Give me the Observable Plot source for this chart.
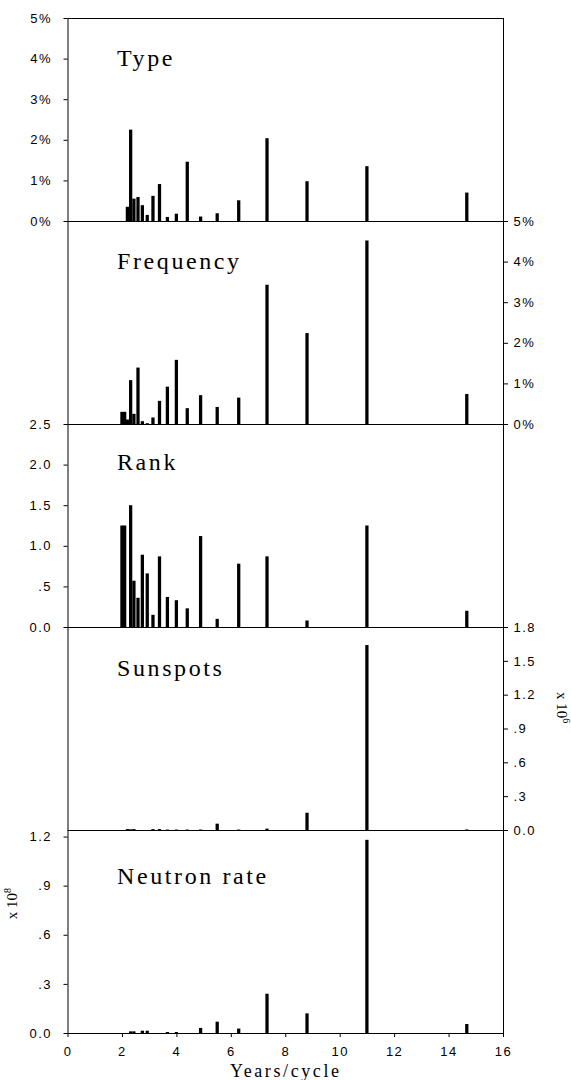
<!DOCTYPE html>
<html><head><meta charset="utf-8">
<script src="https://cdn.jsdelivr.net/npm/d3@7"></script>
<script src="https://cdn.jsdelivr.net/npm/@observablehq/plot@0.6"></script>
<style>
body{margin:0;background:#fff;}
#chart{position:relative;width:571px;height:1080px;overflow:hidden;}
#chart svg{position:absolute;left:0;overflow:visible;background:transparent;}
</style></head><body><div id="chart"></div>
<script>
// Periods (years/cycle) of the bars
const periods  = [14.67, 11.0, 8.8, 7.33, 6.29, 5.5, 4.89, 4.4, 4.0, 3.67, 3.38, 3.14, 2.93, 2.75, 2.59, 2.44, 2.32, 2.2, 2.1, 2.0];
// Series values, same order as periods
const typePct  = [0.70, 1.35, 0.98, 2.04, 0.51, 0.19, 0.11, 1.46, 0.18, 0.10, 0.91, 0.62, 0.15, 0.39, 0.59, 0.55, 2.25, 0.35, 0, 0];
const freqPct  = [0.74, 4.52, 2.24, 3.43, 0.65, 0.42, 0.71, 0.39, 1.58, 0.92, 0.57, 0.16, 0.02, 0.07, 1.39, 0.25, 1.08, 0.11, 0.30, 0.30];
const rankVal  = [0.20, 1.25, 0.08, 0.87, 0.78, 0.10, 1.12, 0.23, 0.33, 0.37, 0.87, 0.15, 0.66, 0.89, 0.36, 0.57, 1.50, 0, 1.25, 1.25];
const sunspots = [0.005, 1.64, 0.153, 0.012, 0.004, 0.056, 0.004, 0.004, 0.004, 0.004, 0.008, 0.008, 0, 0, 0, 0.008, 0.006, 0.008, 0, 0]; // x 10^6
const neutron  = [0.055, 1.18, 0.12, 0.24, 0.027, 0.069, 0.031, 0, 0.006, 0.006, 0, 0, 0.014, 0.014, 0, 0.01, 0.01, 0, 0, 0];          // x 10^8

// Tick values and labels
const xTicks = [0, 2, 4, 6, 8, 10, 12, 14, 16];
const pctTicks = [0, 1, 2, 3, 4, 5];
const pctLabels = ["0%", "1%", "2%", "3%", "4%", "5%"];
const rankTicks = [0, 0.5, 1, 1.5, 2, 2.5];
const rankLabels = ["0.0", ".5", "1.0", "1.5", "2.0", "2.5"];
const sunTicks = [0, 0.3, 0.6, 0.9, 1.2, 1.5, 1.8];
const sunLabels = ["0.0", ".3", ".6", ".9", "1.2", "1.5", "1.8"];
const neuTicks = [0, 0.3, 0.6, 0.9, 1.2];
const neuLabels = ["0.0", ".3", ".6", ".9", "1.2"];

const panels = [
  {name: "Type",         vals: typePct,  domain: [0, 5],    ticks: pctTicks,  labels: pctLabels,  side: "left",  labelDy: 47},
  {name: "Frequency",    vals: freqPct,  domain: [0, 5],    ticks: pctTicks,  labels: pctLabels,  side: "right", labelDy: 47},
  {name: "Rank",         vals: rankVal,  domain: [0, 2.5],  ticks: rankTicks, labels: rankLabels, side: "left",  labelDy: 45},
  {name: "Sunspots",     vals: sunspots, domain: [0, 1.8],  ticks: sunTicks,  labels: sunLabels,  side: "right", labelDy: 48, unit: "6"},
  {name: "Neutron rate", vals: neutron,  domain: [0, 1.24], ticks: neuTicks,  labels: neuLabels,  side: "left",  labelDy: 53, unit: "8"}
];

const W = 571, ML = 67.5, MR = 68, PH = 203, PAD = 14, TOP0 = 18, BOTTOM = 47;
const serif = "Liberation Serif, Times New Roman, serif";
const sans = "Liberation Sans, Arial, sans-serif";
const chart = document.getElementById("chart");

panels.forEach((p, i) => {
  const last = i === panels.length - 1;
  const data = periods.map((x, k) => ({p: x, v: p.vals[k]}));
  const lab = new Map(p.ticks.map((t, k) => [t, p.labels[k]]));
  const marks = [
    Plot.rectY(data, {x1: d => d.p - 0.06, x2: d => d.p + 0.06, y: "v", fill: "black"}),
    Plot.frame({stroke: "black", strokeWidth: 1}),
    Plot.axisY({anchor: p.side, ticks: p.ticks, tickFormat: d => lab.get(d), tickSize: 4,
                tickPadding: p.side === "left" ? 12 : 6, fontSize: 13, fontFamily: sans, label: null, stroke: "black"}),
    Plot.text([p.name], {frameAnchor: "top-left", dx: 49, dy: p.labelDy, lineAnchor: "bottom", textAnchor: "start",
                         fontSize: 24, fontFamily: serif, fill: "black"})
  ];
  if (last) {
    marks.push(Plot.axisX({ticks: xTicks, tickSize: 4, tickPadding: 9, fontSize: 13, fontFamily: sans, label: null, stroke: "black"}));
    marks.push(Plot.text(["Years/cycle"], {frameAnchor: "bottom", dy: 43, lineAnchor: "bottom", fontSize: 18, fontFamily: serif, fill: "black"}));
  }
  const svg = Plot.plot({
    width: W,
    height: PH + PAD + (last ? BOTTOM : PAD),
    marginLeft: ML, marginRight: MR, marginTop: PAD, marginBottom: last ? BOTTOM : PAD,
    x: {domain: [0, 16], ...(last ? {} : {axis: null})},
    y: {domain: p.domain},
    style: {background: "transparent", overflow: "visible", color: "black", fontFamily: sans},
    marks
  });
  svg.style.top = (TOP0 + i * PH - PAD) + "px";
  chart.appendChild(svg);
  const s = d3.select(svg);
  s.selectAll('g[aria-label$="tick label"]').attr("letter-spacing", "1.5");
  s.selectAll('g[aria-label="text"]').attr("letter-spacing", "2.6");
  if (p.unit) {
    const cy = PAD + PH / 2;
    const t = s.append("text")
      .attr("font-family", serif).attr("font-size", 15).attr("fill", "black")
      .attr("text-anchor", "middle");
    if (p.side === "right") t.attr("transform", `translate(${W - 14},${cy - 21}) rotate(90)`);
    else t.attr("transform", `translate(17,${cy - 28}) rotate(-90)`);
    t.append("tspan").text("x 10");
    t.append("tspan").attr("font-size", 10).attr("dy", "-0.6em").text(p.unit);
  }
});
</script></body></html>
